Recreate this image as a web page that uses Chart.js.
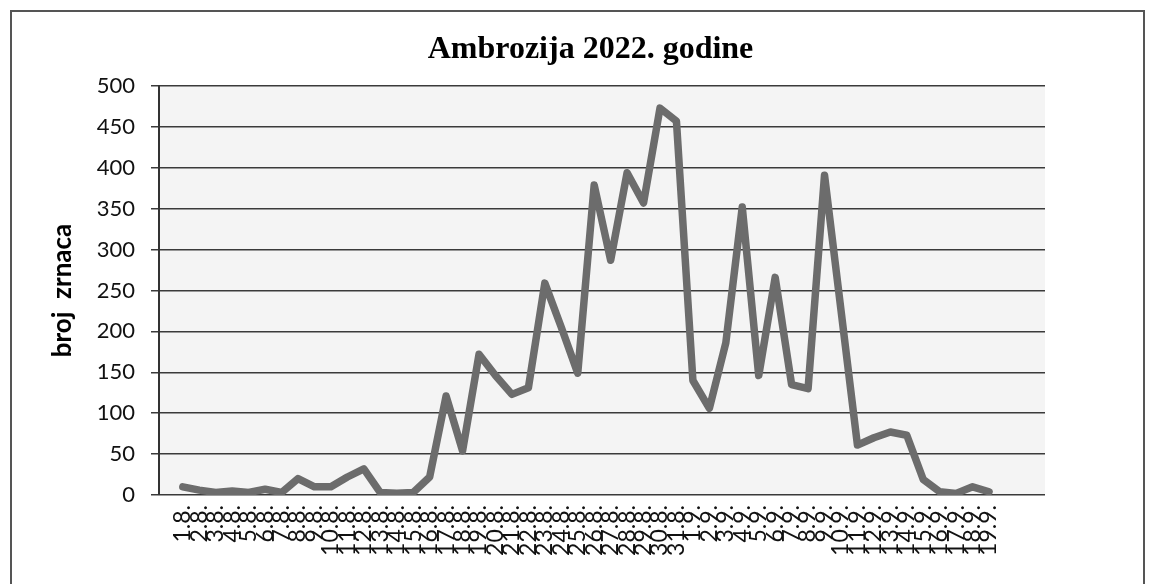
<!DOCTYPE html>
<html>
<head>
<meta charset="utf-8">
<script src="https://cdn.jsdelivr.net/npm/chart.js@4/dist/chart.umd.min.js"></script>
<style>
  html, body { margin: 0; padding: 0; background: #fff; }
  #wrap { position: relative; width: 1153px; height: 584px; overflow: hidden; }
  #frame { position: absolute; left: 10px; top: 10px; width: 1131px; height: 600px; border: 2px solid #555; }
  canvas { position: absolute; left: 0; top: 0; }
</style>
</head>
<body>
<div id="wrap">
  <div id="frame"></div>
  <canvas id="chart" width="1153" height="584"></canvas>
</div>
<script>
// datumi uzorkovanja
const dates = [
  '1.8.', '2.8.', '3.8.', '4.8.', '5.8.', '6.8.', '7.8.', '8.8.', '9.8.', '10.8.',
  '11.8.', '12.8.', '13.8.', '14.8.', '15.8.', '16.8.', '17.8.', '18.8.', '19.8.', '20.8.',
  '21.8.', '22.8.', '23.8.', '24.8.', '25.8.', '26.8.', '27.8.', '28.8.', '29.8.', '30.8.',
  '31.8.', '1.9.', '2.9.', '3.9.', '4.9.', '5.9.', '6.9.', '7.9.', '8.9.', '9.9.',
  '10.9.', '11.9.', '12.9.', '13.9.', '14.9.', '15.9.', '16.9.', '17.9.', '18.9.', '19.9.'
]

// broj zrnaca peluda ambrozije
const counts = [
  10, 6, 3, 5, 3, 7, 3, 20, 10, 10,
  22, 32, 3, 2, 3, 22, 121, 54, 172, 146,
  123, 131, 259, 205, 149, 379, 287, 394, 357, 473,
  457, 140, 106, 186, 352, 146, 266, 135, 130, 391,
  226, 61, 70, 77, 73, 19, 4, 2, 10, 4
]

const yTicks = [0, 50, 100, 150, 200, 250, 300, 350, 400, 450, 500]

// light plot background like the scanned sheet
const plotBg = {
  id: 'plotBg',
  beforeDraw(chart) {
    const { ctx, chartArea: a } = chart
    ctx.save()
    ctx.fillStyle = '#f4f4f4'
    ctx.fillRect(a.left, a.top, a.right - a.left, a.bottom - a.top)
    ctx.restore()
  }
}

// title in the original sits a bit right of the canvas centre
const titleShift = {
  id: 'titleShift',
  afterLayout(chart) {
    if (chart.titleBlock) chart.titleBlock.left += 136
  }
}

const ctx = document.getElementById('chart').getContext('2d')
new Chart(ctx, {
  type: 'line',
  data: {
    datasets: [{
      data: counts.map((v, i) => ({ x: i, y: v })),
      borderColor: '#6c6c6c',
      borderWidth: 7.5,
      borderJoinStyle: 'round',
      borderCapStyle: 'round',
      pointRadius: 0,
      tension: 0,
      fill: false
    }]
  },
  options: {
    responsive: false,
    animation: false,
    layout: { padding: { left: 0, right: 108, top: 18, bottom: 0 } },
    plugins: {
      legend: { display: false },
      tooltip: { enabled: false },
      title: {
        display: true,
        text: 'Ambrozija 2022. godine',
        color: '#000',
        font: { family: '"Liberation Serif", "Times New Roman", serif', size: 32, weight: 'bold' },
        padding: { top: 13, bottom: 16.6 }
      }
    },
    scales: {
      x: {
        type: 'linear',
        min: -1.45,
        max: 52.4,
        afterBuildTicks: (s) => { s.ticks = dates.map((d, i) => ({ value: i })) },
        afterFit: (s) => { s.height = 89 },
        grid: { display: false, drawTicks: false },
        border: { display: false },
        ticks: {
          autoSkip: false,
          minRotation: 90,
          maxRotation: 90,
          padding: 10,
          color: '#111',
          font: { family: 'Lato, "Open Sans", sans-serif', size: 23 },
          callback: (v, i) => dates[i]
        }
      },
      y: {
        min: 0,
        max: 500,
        afterBuildTicks: (s) => { s.ticks = yTicks.map(v => ({ value: v })) },
        afterFit: (s) => { s.width = 159 },
        grid: { color: '#3a3a3a', lineWidth: 1.5, tickLength: 8, drawTicks: true },
        border: { display: true, color: '#333', width: 2 },
        ticks: {
          padding: 16,
          color: '#111',
          font: { family: 'Lato, "Open Sans", sans-serif', size: 22 }
        },
        title: {
          display: true,
          text: 'broj  zrnaca',
          color: '#000',
          font: { family: 'Lato, "Open Sans", sans-serif', size: 26, weight: 'bold' },
          padding: { top: 47, bottom: 0 }
        }
      }
    }
  },
  plugins: [plotBg, titleShift]
})
</script>
</body>
</html>
